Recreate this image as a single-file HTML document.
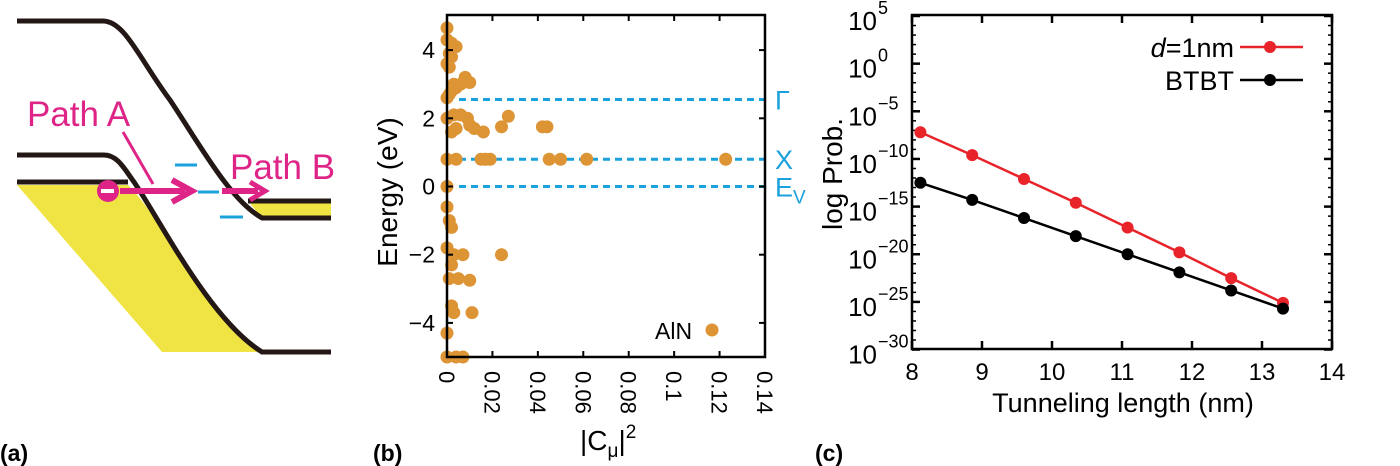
<!DOCTYPE html>
<html><head><meta charset="utf-8"><style>
body{margin:0;background:#fff;width:1400px;height:466px;overflow:hidden}
svg{display:block;font-family:"Liberation Sans",sans-serif}
</style></head><body>
<svg id="fig" width="1400" height="466" viewBox="0 0 1400 466">
 <g>
  <path d="M17,185 L128,185 C160,215 210,320 258,352 L162,352 Z" fill="#efe443"/>
  <path d="M248,201 L331,201 L331,218 L262,218 Z" fill="#efe443"/>
  <path d="M17,21 L103,21 C125,21 140,60 170,100 C200,145 230,200 262,218 L331,218" fill="none" stroke="#231815" stroke-width="5"/>
  <path d="M17,155 L104,155 C118,155 125,170 134,182 C160,220 210,320 262,352 L331,352" fill="none" stroke="#231815" stroke-width="5"/>
  <path d="M17,182 L128,182" stroke="#231815" stroke-width="5"/>
  <path d="M248,201 L331,201" stroke="#231815" stroke-width="5"/>
  <g stroke="#1ba1dc" stroke-width="3">
   <line x1="175" y1="165" x2="197" y2="165"/><line x1="198" y1="192" x2="219" y2="192"/><line x1="220" y1="217" x2="243" y2="217"/>
  </g>
  <g fill="#de2587" stroke="#de2587">
   <line x1="120" y1="191" x2="185" y2="191" stroke-width="6"/>
   <path d="M172,180 L192,191 L172,202" fill="none" stroke-width="6"/>
   <line x1="222" y1="191" x2="258" y2="191" stroke-width="6"/>
   <path d="M250,182 L265,191 L250,200" fill="none" stroke-width="5"/>
   <line x1="123" y1="132" x2="153" y2="184" stroke-width="3"/>
   <circle cx="108" cy="191" r="11" stroke="none"/>
  </g>
  <rect x="101" y="189" width="13" height="4" fill="#fff"/>
  <text x="27" y="126" font-size="35" fill="#de2587">Path A</text>
  <text x="230" y="179" font-size="35" fill="#de2587">Path B</text>
  <text x="0" y="461" font-size="23" font-weight="bold">(a)</text>
 </g>
 <g id="pb"></g>
 <g id="pc"></g>
</svg>
<script>
const NS="http://www.w3.org/2000/svg";
function el(p,t,a,txt){const e=document.createElementNS(NS,t);for(const k in a)e.setAttribute(k,a[k]);if(txt!==undefined)e.textContent=txt;p.appendChild(e);return e;}

// ---- Panel (b) data ----
const bX=[0,0,0.002,0.004,0.001,0.002,0,0.001,0.008,0.01,0.006,0.004,0.002,0,0.003,0.001,0,0.003,0.006,0.009,0.004,0.01,0.012,0.016,0.024,0.027,0.042,0.044,0.002,0,0.004,0.015,0.017,0.019,0.045,0.05,0.0615,0.1227,0,0,0.001,0.002,0,0.003,0.007,0.002,0.001,0.005,0.01,0.024,0.002,0.003,0.011,0,0,0.004,0.007];
const bE=[4.65,4.3,4.2,4.1,3.9,3.8,3.6,3.5,3.2,3.05,3.0,2.9,2.8,2.6,3.0,2.7,2.0,2.1,2.1,2.0,1.7,1.8,1.7,1.6,1.75,2.06,1.75,1.75,1.6,0.8,0.8,0.8,0.8,0.8,0.8,0.8,0.8,0.8,0,-0.6,-1.0,-1.2,-1.8,-2.0,-2.0,-2.3,-2.7,-2.7,-2.75,-2.0,-3.5,-3.7,-3.7,-4.3,-5,-5,-5];
const bXTicks=["0","0.02","0.04","0.06","0.08","0.1","0.12","0.14"];
const bYTicks=[-4,-2,0,2,4];
const bLevels=[2.55,0.8,0];
const bLevelNames=["Γ","X","E"];

const bx=v=>447+v/0.14*318, by=v=>186.5-v*34.1;
const pb=document.getElementById('pb');
bLevels.forEach((v,i)=>{
 const l=el(pb,'line',{x1:459,x2:765,y1:by(v),y2:by(v),stroke:'#1ba1dc','stroke-width':3,'stroke-dasharray':'7,5'});
 
 
 const t=el(pb,'text',{x:775,y:by(v)+10,'font-size':27,fill:'#1ba1dc'},bLevelNames[i]);
 
 
 if(i==2){el(t,'tspan',{dy:7,'font-size':19},'V');}
});
bX.forEach((v,i)=>{
 const c=el(pb,'circle',{cx:bx(v),cy:by(bE[i]),r:6.5,fill:'#dc9435'});
 
 
});
const fr=el(pb,'rect',{x:447,y:15,width:318,height:342,fill:'none',stroke:'#000','stroke-width':2.5});


bXTicks.forEach((s,i)=>{
 const x=bx(i*0.02);
 el(pb,'line',{x1:x,x2:x,y1:15,y2:21,stroke:'#000','stroke-width':2});
 el(pb,'line',{x1:x,x2:x,y1:357,y2:351,stroke:'#000','stroke-width':2});
 const t=el(pb,'text',{x:0,y:0,'font-size':22,transform:`translate(${x-8},371) rotate(90)`},s);
 
 
});
bYTicks.forEach(v=>{
 const y=by(v);
 el(pb,'line',{x1:447,x2:453,y1:y,y2:y,stroke:'#000','stroke-width':2});
 el(pb,'line',{x1:765,x2:759,y1:y,y2:y,stroke:'#000','stroke-width':2});
 const t=el(pb,'text',{x:435,y:y+8,'font-size':23,'text-anchor':'end'},v<0?'−'+(-v):String(v));
 
 
});
let t=el(pb,'text',{x:0,y:0,'font-size':28,'text-anchor':'middle',transform:'translate(397,192) rotate(-90)'},'Energy (eV)');


t=el(pb,'text',{x:580,y:450,'font-size':28},'|C');


el(t,'tspan',{dy:7,'font-size':19},'μ');
el(t,'tspan',{dy:-7,'font-size':28},'|');
el(t,'tspan',{dy:-12,'font-size':19},'2');
t=el(pb,'text',{x:655,y:339,'font-size':23},'AlN');


t=el(pb,'circle',{cx:712,cy:330,r:6.5,fill:'#dc9435'});


t=el(pb,'text',{x:373,y:461,'font-size':23,'font-weight':'bold'},'(b)');



// ---- Panel (c) data ----
const cLen=[8.12,8.86,9.6,10.34,11.08,11.82,12.56,13.3];
const cRed=[-7.2,-9.6,-12.1,-14.6,-17.2,-19.8,-22.5,-25.1];
const cBlack=[-12.5,-14.3,-16.2,-18.1,-20.0,-21.9,-23.8,-25.7];
const cXTicks=[8,9,10,11,12,13,14];
const cYTicks=[5,0,-5,-10,-15,-20,-25,-30];

const cx=v=>912+(v-8)*70, cy=v=>16+(5-v)*9.53;
const pc=document.getElementById('pc');
const fc=el(pc,'rect',{x:912,y:15,width:420,height:334,fill:'none',stroke:'#000','stroke-width':2.5});


for(let d=-30;d<=5;d++){const y=cy(d);
 el(pc,'line',{x1:912,x2:d%5==0?920:916,y1:y,y2:y,stroke:'#000','stroke-width':d%5==0?2.5:1.5});
 el(pc,'line',{x1:1332,x2:d%5==0?1324:1328,y1:y,y2:y,stroke:'#000','stroke-width':d%5==0?2.5:1.5});}
cXTicks.forEach(v=>{const x=cx(v);
 el(pc,'line',{x1:x,x2:x,y1:349,y2:341,stroke:'#000','stroke-width':2.5});
 el(pc,'line',{x1:x,x2:x,y1:15,y2:23,stroke:'#000','stroke-width':2.5});
 const t=el(pc,'text',{x:x,y:380,'font-size':24,'text-anchor':'middle'},String(v));
 
 
});
cYTicks.forEach(v=>{const y=cy(v);
 const t=el(pc,'text',{x:877,y:y+14,'font-size':26,'text-anchor':'end'},'10');
 
 
 el(pc,'text',{x:878,y:y-2,'font-size':18},v<0?'−'+(-v):String(v));
});
[[cRed,'#e8232a','red'],[cBlack,'#000','black']].forEach(([arr,col,nm])=>{
 const pts=arr.map((v,i)=>cx(cLen[i])+','+cy(v)).join(' ');
 const pl=el(pc,'polyline',{points:pts,fill:'none',stroke:col,'stroke-width':2.5});
 
 
 arr.forEach((v,i)=>{const c=el(pc,'circle',{cx:cx(cLen[i]),cy:cy(v),r:6,fill:col});
  
  });
});
[[47,'#e8232a','d=1nm'],[80,'#000','BTBT']].forEach(([y,col,lab],i)=>{
 const l=el(pc,'line',{x1:1240,x2:1303,y1:y,y2:y,stroke:col,'stroke-width':2.5});
 
 
 el(pc,'circle',{cx:1270,cy:y,r:6,fill:col});
 const t=el(pc,'text',{x:1234,y:y+10,'font-size':27,'text-anchor':'end'},'');
 
 
 if(i==0){el(t,'tspan',{'font-style':'italic'},'d');el(t,'tspan',{},'=1nm');}else t.textContent=lab;
});
t=el(pc,'text',{x:0,y:0,'font-size':28,'text-anchor':'middle',transform:'translate(842,174) rotate(-90)'},'log Prob.');


t=el(pc,'text',{x:1123,y:412,'font-size':27,'text-anchor':'middle'},'Tunneling length (nm)');


t=el(pc,'text',{x:815,y:461,'font-size':23,'font-weight':'bold'},'(c)');


</script>
</body></html>
